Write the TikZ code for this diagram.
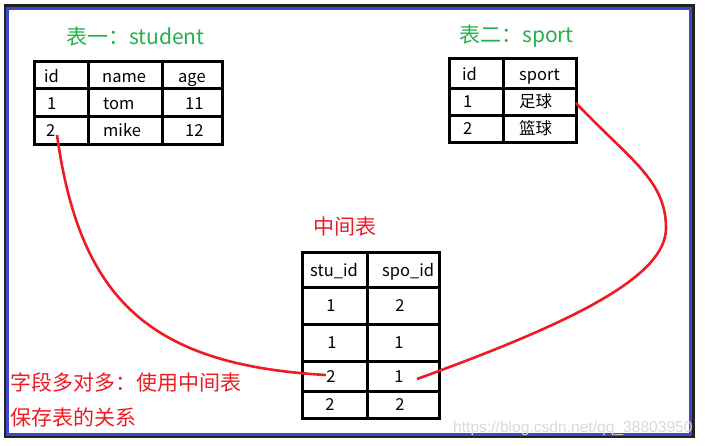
\documentclass[tikz,border=0pt]{standalone}
\usepackage{fontspec}
\setmainfont{Noto Sans CJK SC}
\newfontfamily\wmfont{Liberation Sans}
\definecolor{tgreen}{HTML}{22B14C}
\definecolor{tred}{HTML}{ED1C24}
\definecolor{fblue}{HTML}{3F48CC}
\definecolor{fdark}{HTML}{222222}
\begin{document}
\begin{tikzpicture}[x=1pt,y=-1pt,
  tbl/.style={draw=black,line width=3pt},
  cell/.style={anchor=base west,inner sep=0pt,font=\fontsize{16.5}{19}\selectfont},
  ccell/.style={anchor=base,inner sep=0pt,font=\fontsize{16.5}{19}\selectfont},
  gtitle/.style={anchor=base west,inner sep=0pt,text=tgreen,font=\fontsize{21}{25}\selectfont},
  rtext/.style={anchor=base west,inner sep=0pt,text=tred,font=\fontsize{21}{25}\selectfont},
  link/.style={draw=tred,line width=2.6pt}]
\useasboundingbox (0,0) rectangle (705,445);
% frame
\fill[fdark] (4,4) rectangle (695,438);
\fill[fblue] (6,7) rectangle (692,436);
\fill[white] (9,10) rectangle (689,433);
% watermark
\node[anchor=base west,inner sep=0pt,text=black!15,font=\wmfont\fontsize{15.6}{18}\selectfont] (wm) at (453,432) {https://blog.csdn.net/qq\_38803950};
% table 1: student
\node[gtitle] (t1) at (66,44) {表一：student};
\draw[tbl] (34.5,61.5) rectangle (222.5,144.5);
\draw[tbl] (88,61.5) -- (88,144.5) (162,61.5) -- (162,144.5)
           (34.5,88) -- (222.5,88) (34.5,116) -- (222.5,116);
\node[cell] (s11) at (44,82) {id};
\node[cell] (s12) at (102,82) {name};
\node[cell] (s13) at (178,82) {age};
\node[cell] (s21) at (47,109) {1};
\node[cell] (s22) at (103,109) {tom};
\node[cell] (s23) at (185,109) {11};
\node[cell] (s31) at (46,136) {2};
\node[cell] (s32) at (103,136) {mike};
\node[cell] (s33) at (185,136) {12};
% table 2: sport
\node[gtitle] (t2) at (459,42) {表二：sport};
\draw[tbl] (449.5,58.5) rectangle (576.5,142.5);
\draw[tbl] (503,58.5) -- (503,142.5) (449.5,88) -- (576.5,88) (449.5,115) -- (576.5,115);
\node[cell] (p11) at (462,80) {id};
\node[cell] (p12) at (519,80) {sport};
\node[cell] (p21) at (463,107) {1};
\node[cell] (p22) at (519,107) {足球};
\node[cell] (p31) at (463,134) {2};
\node[cell] (p32) at (519,134) {篮球};
% middle table
\node[rtext] (t3) at (313,234) {中间表};
\draw[tbl] (302.5,252.5) rectangle (439.5,418.5);
\draw[tbl] (367,252.5) -- (367,418.5)
           (302.5,287) -- (439.5,287) (302.5,324) -- (439.5,324)
           (302.5,361) -- (439.5,361) (302.5,391) -- (439.5,391);
\node[cell] (m11) at (310,276) {stu\_id};
\node[cell] (m12) at (382,276) {spo\_id};
\node[ccell] (m21) at (331,311) {1};
\node[ccell] (m22) at (400,311) {2};
\node[ccell] (m31) at (332,348) {1};
\node[ccell] (m32) at (399,348) {1};
\node[ccell] (m41) at (331,382) {2};
\node[ccell] (m42) at (399,382) {1};
\node[ccell] (m51) at (330,410) {2};
\node[ccell] (m52) at (400,410) {2};
% notes
\node[rtext] (n1) at (10,390) {字段多对多：使用中间表};
\node[rtext] (n2) at (10,425) {保存表的关系};
% connectors
\coordinate (sa) at (57,135);
\coordinate (ma) at (326,375);
\coordinate (pa) at (576,103);
\coordinate (turn) at (666,228);
\coordinate (mb) at (417,379);
\draw[link] (sa) .. controls (80,300) and (150,365) .. (ma);
\draw[link] (pa) .. controls (630,160) and (666,180) .. (turn)
            .. controls (666,275) and (580,320) .. (mb);
\end{tikzpicture}
\end{document}
